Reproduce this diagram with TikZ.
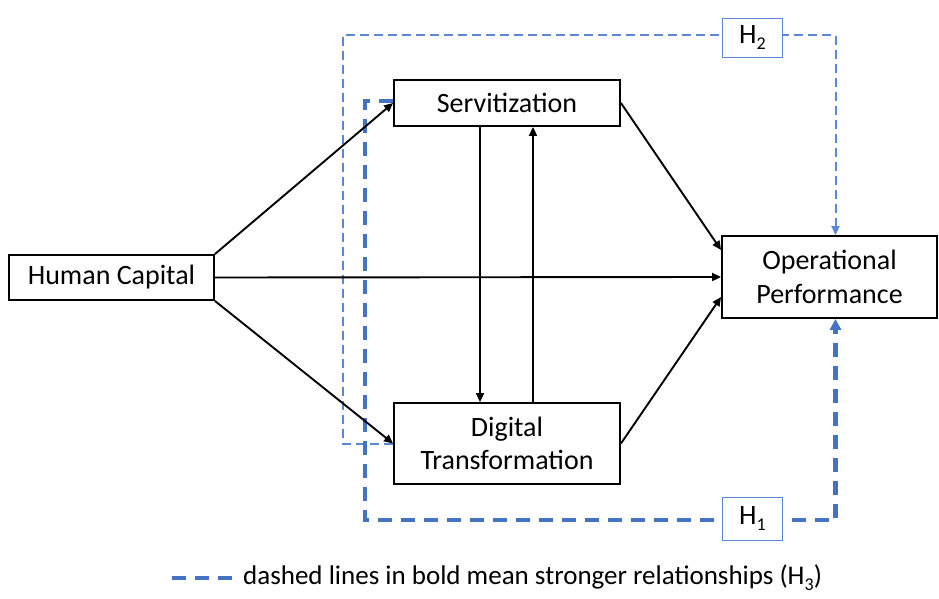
\documentclass[tikz,border=0pt]{standalone}
\usepackage{fontspec}
\setmainfont{Carlito}
\usetikzlibrary{arrows.meta}
\definecolor{hblue}{HTML}{4472C4}
\definecolor{hbluelight}{HTML}{5B87D4}
\newcommand{\hsub}[1]{H\raisebox{-6pt}{\fontsize{18}{18}\selectfont #1}}
\tikzset{
  box/.style={draw=black, line width=1.9pt, fill=white, align=center, inner sep=0pt,
              font=\fontsize{28}{33.5}\selectfont},
  link/.style={draw=black, line width=1.9pt, -{Triangle[length=9pt,width=8pt]}},
  hthin/.style={draw=hbluelight, line width=2pt, dash pattern=on 9pt off 5pt},
  hbold/.style={draw=hblue, line width=4.5pt, dash pattern=on 14pt off 9pt},
  hbox/.style={draw=hbluelight, line width=1.1pt, fill=white, minimum width=60pt,
               inner sep=0pt, font=\fontsize{28}{33}\selectfont},
}
\begin{document}
\begin{tikzpicture}[x=1pt, y=-1pt]
\useasboundingbox (0,0) rectangle (939,599);

% constructs
\node[box, minimum width=205pt, minimum height=45pt] (hc) at (111.5,277.5) {Human Capital};
\node[box, minimum width=226pt, minimum height=46pt] (serv) at (507,103) {Servitization};
\node[box, minimum width=226pt, minimum height=81pt] (dt) at (507,443.5) {Digital\\Transformation};
\node[box, minimum width=215pt, minimum height=82pt] (op) at (829.5,277) {Operational\\Performance};

% corner points of the moderation paths
\coordinate (h2corner) at (343,35);
\coordinate (h1corner) at (365,520);

% H2: thin dashed path
\draw[hthin, -{Triangle[length=9pt,width=8pt]}]
  (dt.west) -| (h2corner) -| ([xshift=6pt]op.north);

% H1: bold dashed path
\draw[hbold, -{Triangle[length=11pt,width=11pt]}]
  ([yshift=2pt]serv.west) -| (h1corner) -| ([xshift=6pt]op.south);

% direct relationships
\draw[link] (hc.north east) -- (serv.west);
\draw[link] (hc.south east) -- (dt.west);
\draw[link] (hc.east) -- (op.west);
\draw[link] ([xshift=-27pt]serv.south) -- ([xshift=-27pt]dt.north);
\draw[link] ([xshift=26pt]dt.north) -- ([xshift=26pt]serv.south);
\draw[link] (serv.east) -- ([yshift=27pt]op.west);
\draw[link] (dt.east) -- ([yshift=-20pt]op.west);

% hypothesis labels
\node[hbox, minimum height=39pt] (h2) at (752.5,38) {\hsub{2}};
\node[hbox, minimum height=43pt] (h1) at (752.5,519) {\hsub{1}};

% legend
\coordinate (legA) at (172,578);
\coordinate (legB) at (232,578);
\draw[hbold, dash pattern=on 14pt off 9pt] (legA) -- (legB);
\node[anchor=west, inner sep=0pt, font=\fontsize{27}{31}\selectfont] (legtext) at (243,578)
  {dashed lines in bold mean stronger relationships (\hsub{3})};
\end{tikzpicture}
\end{document}
